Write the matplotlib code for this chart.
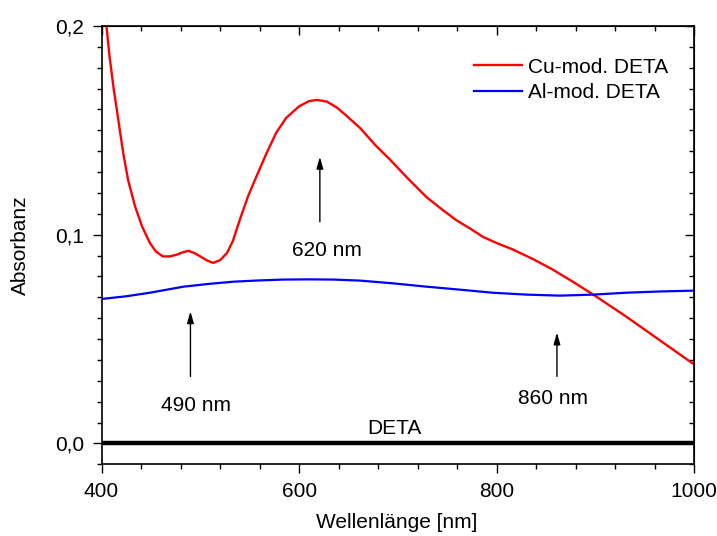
import matplotlib
matplotlib.use("Agg")
import matplotlib.pyplot as plt
from matplotlib.ticker import MultipleLocator, FuncFormatter

plt.rcParams["font.family"] = ["Liberation Sans", "DejaVu Sans"]

# Cu-modified DETA (red)
cu_wl = [400, 402, 405, 408, 412, 417, 422, 427, 434, 441, 449, 455, 462, 469,
         476, 482, 488, 494, 500, 507, 513, 520, 527, 533, 540, 548, 556, 567,
         577, 587, 600, 610, 618, 628, 638, 648, 662, 677, 692, 710, 729, 745,
         759, 773, 786, 800, 816, 836, 856, 877, 901, 931, 964, 1000]
cu_abs = [0.222, 0.212, 0.200, 0.186, 0.171, 0.155, 0.139, 0.126, 0.1135, 0.104,
          0.096, 0.0920, 0.0896, 0.0896, 0.0904, 0.0915, 0.0923, 0.0912, 0.0896,
          0.0876, 0.0865, 0.0878, 0.0912, 0.0970, 0.1072, 0.118, 0.127, 0.139,
          0.149, 0.156, 0.1615, 0.164, 0.1646, 0.1638, 0.161, 0.157, 0.151,
          0.143, 0.136, 0.127, 0.118, 0.112, 0.107, 0.103, 0.099, 0.096, 0.093,
          0.0885, 0.0835, 0.0775, 0.0703, 0.0608, 0.0498, 0.0378]

# Al-modified DETA (blue)
al_wl = [400, 425, 449, 470, 483, 510, 534, 560, 584, 610, 635, 662, 695, 729,
         762, 796, 830, 864, 898, 931, 965, 1000]
al_abs = [0.0692, 0.0705, 0.0722, 0.074, 0.0751, 0.0765, 0.0775, 0.0781, 0.0785,
          0.0786, 0.0785, 0.078, 0.0767, 0.0751, 0.0737, 0.0722, 0.0713, 0.0708,
          0.0713, 0.0722, 0.0728, 0.0732]

# pure DETA (black baseline)
deta_wl = [400, 1000]
deta_abs = [0.0, 0.0]

# arrow annotations: label, arrow x, tail y, tip y, text x, text baseline y
marks = [("620 nm", 621, 0.1062, 0.1373, 628, 0.0900),
         ("490 nm", 490, 0.0321, 0.0633, 496, 0.0155),
         ("860 nm", 861, 0.0321, 0.0531, 857, 0.0191)]

FS = 15

fig = plt.figure(figsize=(7.17, 5.36), dpi=100)
ax = fig.add_axes([0.1416, 0.1338, 0.8267, 0.8177])

ax.plot(cu_wl, cu_abs, color="#FF0000", lw=1.7, label="Cu-mod. DETA")
ax.plot(al_wl, al_abs, color="#0000FF", lw=1.6, label="Al-mod. DETA")
ax.plot(deta_wl, deta_abs, color="black", lw=3.2)

for lab, x, y0, y1, tx, ty in marks:
    ax.annotate("", xy=(x, y1), xytext=(x, y0),
                arrowprops=dict(arrowstyle="-|>,head_width=0.2,head_length=0.7",
                                color="black", lw=1.0, shrinkA=0, shrinkB=0))
    ax.text(tx, ty, lab, ha="center", va="baseline", fontsize=FS)
ax.text(696, 0.0043, "DETA", ha="center", va="baseline", fontsize=FS)

ax.set_xlim(400, 1000)
ax.set_ylim(-0.01, 0.2)
ax.xaxis.set_major_locator(MultipleLocator(200))
ax.xaxis.set_minor_locator(MultipleLocator(40))
ax.yaxis.set_major_locator(MultipleLocator(0.1))
ax.yaxis.set_minor_locator(MultipleLocator(0.01))
ax.yaxis.set_major_formatter(FuncFormatter(lambda v, p: f"{v:.1f}".replace(".", ",")))
ax.tick_params(which="both", direction="out", width=1.0, labelsize=FS, pad=6)
ax.tick_params(which="major", length=6.5)
ax.tick_params(which="minor", length=3.5)
for s in ax.spines.values():
    s.set_linewidth(1.2)

top = ax.secondary_xaxis("top")
top.xaxis.set_major_locator(MultipleLocator(200))
top.xaxis.set_minor_locator(MultipleLocator(40))
top.tick_params(which="both", direction="in", labeltop=False, width=1.0)
top.tick_params(which="major", length=6.5)
top.tick_params(which="minor", length=3.5)
right = ax.secondary_yaxis("right")
right.yaxis.set_major_locator(MultipleLocator(0.1))
right.yaxis.set_minor_locator(MultipleLocator(0.01))
right.tick_params(which="both", direction="in", labelright=False, width=1.0)
right.tick_params(which="major", length=6.5)
right.tick_params(which="minor", length=3.5)

fig.text(397 / 717, 8 / 536, "Wellenlänge [nm]", ha="center", va="baseline",
         fontsize=FS)
fig.text(20 / 717, 1 - 245 / 536, "Absorbanz", ha="center", va="center",
         rotation=90, fontsize=FS)

ax.legend(loc="upper right", frameon=False, fontsize=FS, handlelength=2.3,
          handletextpad=0.3, labelspacing=0.3, borderaxespad=0,
          bbox_to_anchor=(0.97, 0.947))

fig.savefig("out.png", dpi=100)
